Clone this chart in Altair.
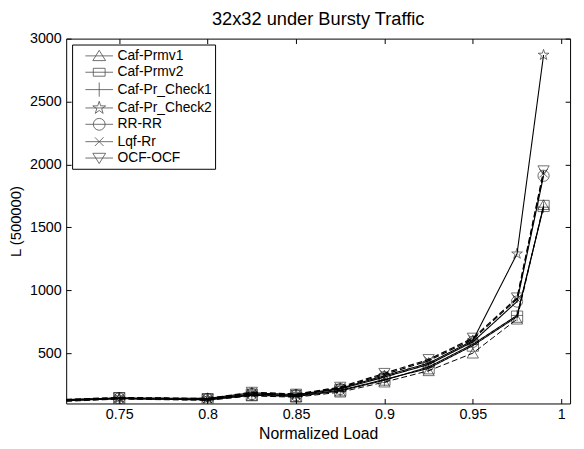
import altair as alt
import pandas as pd

# ---- data ----
loads = [0.70, 0.75, 0.80, 0.825, 0.85, 0.875, 0.90, 0.925, 0.95, 0.975, 0.99]
names = ["Caf-Prmv1", "Caf-Prmv2", "Caf-Pr_Check1", "Caf-Pr_Check2", "RR-RR", "Lqf-Rr", "OCF-OCF"]
caf_prmv1 = [105, 135, 125, 160, 150, 190, 270, 360, 500, 770, 1680]
caf_prmv2 = [115, 140, 130, 170, 160, 205, 290, 380, 560, 790, 1670]
caf_pr_check1 = [110, 138, 128, 165, 155, 200, 285, 390, 570, 800, 1660]
caf_pr_check2 = [120, 145, 140, 185, 170, 220, 320, 420, 600, 1290, 2870]
rr_rr = [125, 140, 135, 175, 165, 215, 310, 410, 590, 910, 1910]
lqf_rr = [118, 142, 138, 180, 170, 225, 330, 440, 610, 930, 1930]
ocf_ocf = [122, 148, 140, 190, 175, 230, 340, 450, 620, 940, 1950]
series = [caf_prmv1, caf_prmv2, caf_pr_check1, caf_pr_check2, rr_rr, lqf_rr, ocf_ocf]

x_ticks = [0.75, 0.8, 0.85, 0.9, 0.95, 1.0]
y_ticks = [500, 1000, 1500, 2000, 2500, 3000]

rows = []
for name, vals in zip(names, series):
    for x, y in zip(loads, vals):
        rows.append({"load": x, "L": y, "series": name})
df = pd.DataFrame(rows)

# ---- styles ----
dash_range = [[6, 3], [1, 0], [1, 0], [1, 0], [1, 0], [6, 3], [6, 3]]
width_range = [1, 1.2, 1, 0.8, 1.2, 1, 1]

star = "M0,-1L0.22,-0.31L0.95,-0.31L0.36,0.12L0.59,0.81L0,0.38L-0.59,0.81L-0.36,0.12L-0.95,-0.31L-0.22,-0.31Z"
marker_paths = [
    "triangle-up",
    "square",
    "M-1,0H1M0,-1V1",
    star,
    "circle",
    "M-0.75,-0.75L0.75,0.75M-0.75,0.75L0.75,-0.75",
    "triangle-down",
]

line = "M-1.75,0H1.75"
star_leg = "M0,-0.85L0.19,-0.26L0.81,-0.26L0.31,0.1L0.5,0.69L0,0.32L-0.5,0.69L-0.31,0.1L-0.81,-0.26L-0.19,-0.26Z"
legend_paths = [
    line + "M0,-0.7L-0.81,0.6L0.81,0.6Z",
    line + "M-0.75,-0.5H0.75V0.5H-0.75Z",
    line + "M0,-0.9V0.9",
    line + star_leg,
    line + "M-0.75,0A0.75,0.75 0 1,0 0.75,0A0.75,0.75 0 1,0 -0.75,0Z",
    line + "M-0.55,-0.55L0.55,0.55M-0.55,0.55L0.55,-0.55",
    line + "M0,0.7L-0.81,-0.6L0.81,-0.6Z",
]

FONT = "Liberation Sans"
xscale = alt.Scale(domain=[0.72, 1.005], nice=False, zero=False)
yscale = alt.Scale(domain=[100, 3000], nice=False, zero=False)

lines = alt.Chart(df).mark_line(clip=True, color="black").encode(
    x=alt.X("load:Q", scale=xscale,
            axis=alt.Axis(orient="bottom", values=x_ticks, format=".2~f", offset=-5,
                          domain=False, tickSize=5, labelPadding=4, titlePadding=5,
                          title="Normalized Load", titleFontSize=16, grid=False)),
    y=alt.Y("L:Q", scale=yscale,
            axis=alt.Axis(orient="left", values=y_ticks, format="d", offset=-5, domain=False,
                          tickSize=5, labelPadding=5, titlePadding=6,
                          title="L (500000)", titleFontSize=15, grid=False)),
    strokeDash=alt.StrokeDash("series:N", scale=alt.Scale(domain=names, range=dash_range), legend=None),
    strokeWidth=alt.StrokeWidth("series:N", scale=alt.Scale(domain=names, range=width_range), legend=None),
    detail="series:N",
)

points = alt.Chart(df).mark_point(clip=True, filled=False, color="black", size=130, strokeWidth=0.8).encode(
    x=alt.X("load:Q", scale=xscale,
            axis=alt.Axis(orient="top", values=x_ticks, labels=False, offset=-5, domain=False,
                          tickSize=5, title=None, grid=False)),
    y=alt.Y("L:Q", scale=yscale,
            axis=alt.Axis(orient="right", values=y_ticks, labels=False, offset=-5, domain=False,
                          tickSize=5, title=None, grid=False)),
    shape=alt.Shape("series:N", scale=alt.Scale(domain=names, range=marker_paths), legend=None),
)

legend_layer = alt.Chart(df).transform_filter("false").mark_point(
    filled=False, color="black", strokeWidth=0.8).encode(
    x=alt.X("load:Q", scale=xscale, axis=None),
    y=alt.Y("L:Q", scale=yscale, axis=None),
    shape=alt.Shape("series:N", scale=alt.Scale(domain=names, range=legend_paths),
                    legend=alt.Legend(title=None, orient="top-left", offset=6)),
)

chart = alt.layer(lines, points, legend_layer).resolve_scale(
    shape="independent"
).resolve_axis(x="independent", y="independent").properties(
    width=511, height=370,
    autosize=alt.AutoSizeParams(type="none"),
    padding={"left": 59, "top": 28, "right": 6, "bottom": 35},
    title=alt.TitleParams("32x32 under Bursty Traffic", font=FONT, fontSize=18.5,
                          fontWeight="normal", color="black", offset=2, anchor="middle"),
).configure_view(stroke="black", strokeWidth=1).configure_axis(
    labelFont=FONT, labelFontSize=14.5, labelColor="black",
    titleFont=FONT, titleFontWeight="normal", titleColor="black",
    tickColor="black", tickWidth=1,
).configure_legend(
    labelFont=FONT, labelFontSize=14, labelColor="black",
    symbolSize=256, symbolStrokeWidth=0.8, symbolStrokeColor="black",
    padding=3, rowPadding=0.6, symbolOffset=16, labelOffset=10,
    strokeColor="black", fillColor="white", cornerRadius=0,
)

chart.save("out.html", embed_options={"renderer": "svg", "actions": False})
